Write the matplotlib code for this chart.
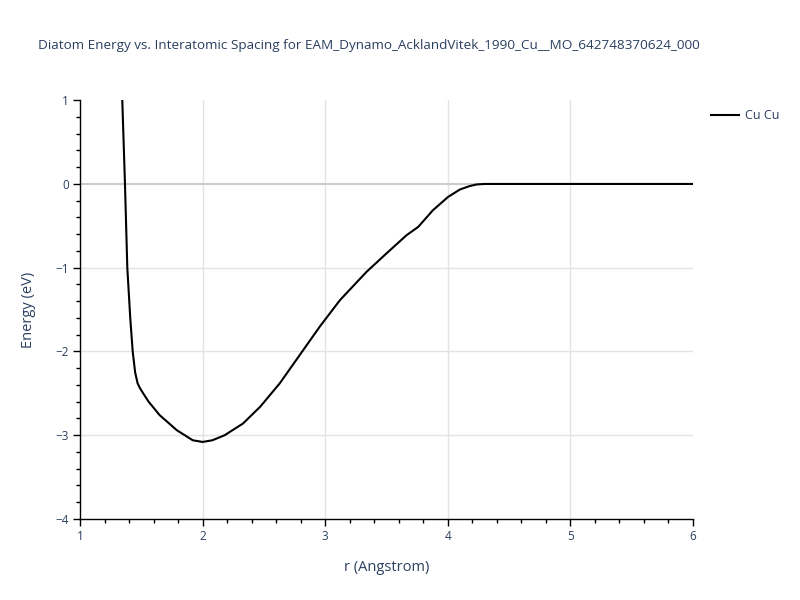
import matplotlib
matplotlib.use("Agg")
import matplotlib.pyplot as plt
from matplotlib.ticker import MultipleLocator

# valeurs
r = [1.345, 1.367, 1.386, 1.41, 1.43, 1.45, 1.47, 1.49, 1.52, 1.56, 1.65,
     1.79, 1.92, 2.0, 2.08, 2.18, 2.33, 2.47, 2.63, 2.794, 2.958, 3.121,
     3.338, 3.50, 3.665, 3.76, 3.88, 4.004, 4.10, 4.18, 4.236, 4.30, 4.40,
     5.0, 6.0]
energy = [1.0, 0.0, -1.0, -1.6, -2.0, -2.25, -2.38, -2.44, -2.51, -2.60, -2.76,
          -2.94, -3.06, -3.08, -3.06, -3.0, -2.86, -2.66, -2.38, -2.04, -1.70, -1.387,
          -1.049, -0.83, -0.611, -0.512, -0.313, -0.154, -0.066, -0.025, -0.006, 0.0, 0.0,
          0.0, 0.0]

titre = "Diatom Energy vs. Interatomic Spacing for EAM_Dynamo_AcklandVitek_1990_Cu__MO_642748370624_000"
txt = "#2a3f5f"

plt.rcParams['font.family'] = ['Open Sans', 'DejaVu Sans']

fig = plt.figure(figsize=(8, 6), dpi=100)
ax = fig.add_axes([0.1, 0.135, 0.766, 0.698])

ax.plot(r, energy, color="black", lw=1.5, label="Cu Cu", zorder=3)

ax.set_xlim(1, 6)
ax.set_ylim(-4, 1)
ax.xaxis.set_major_locator(MultipleLocator(1))
ax.xaxis.set_minor_locator(MultipleLocator(0.2))
ax.yaxis.set_major_locator(MultipleLocator(1))
ax.yaxis.set_minor_locator(MultipleLocator(0.2))

# grille seulement à l'intérieur (pas sur les bords comme plotly)
for xv in [2, 3, 4, 5]:
    ax.axvline(xv, color="#e3e3e3", lw=1, zorder=0)
for yv in [-3, -2, -1]:
    ax.axhline(yv, color="#e3e3e3", lw=1, zorder=0)
ax.axhline(0, color="#cccccc", lw=1.5, zorder=1)

for s in ["top", "right"]:
    ax.spines[s].set_visible(False)
for s in ["left", "bottom"]:
    ax.spines[s].set_color("black")
    ax.spines[s].set_linewidth(1)

ax.tick_params(which="major", direction="out", length=5, width=1, color="black",
               labelsize=8.5, labelcolor=txt, pad=3)
ax.tick_params(which="minor", direction="out", length=3, width=1, color="black")

ax.set_xlabel("r (Angstrom)", fontsize=10.5, color=txt, labelpad=12)
ax.set_ylabel("Energy (eV)", fontsize=10.5, color=txt, labelpad=14)

fig.text(0.461, 0.925, titre, ha="center", va="center", fontsize=9.7, color=txt)

leg = ax.legend(loc="upper left", bbox_to_anchor=(1.022, 0.99), frameon=False,
                fontsize=9, handlelength=2.2, handletextpad=0.5, borderaxespad=0)
for t in leg.get_texts():
    t.set_color(txt)

fig.savefig("out.png", dpi=100)
